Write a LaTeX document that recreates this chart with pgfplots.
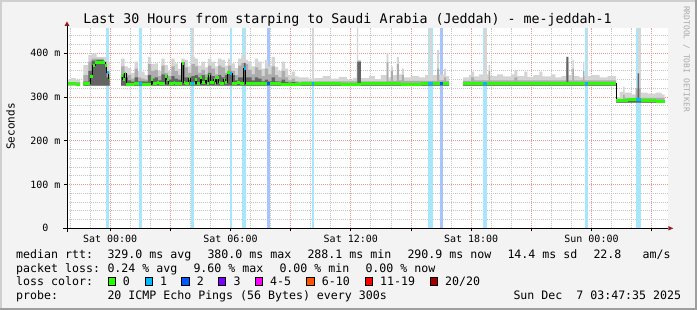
\documentclass[border=0pt]{standalone}
\usepackage{fontspec}
\setmainfont{DejaVu Sans Mono}
\usepackage{pgfplots}
\pgfplotsset{compat=1.18}
\definecolor{bgc}{RGB}{243,243,243}
\definecolor{shA}{RGB}{207,207,207}
\definecolor{shB}{RGB}{158,158,158}
\definecolor{gmaj}{RGB}{236,150,150}
\definecolor{gmin}{RGB}{196,196,196}
\definecolor{arr}{RGB}{153,26,26}
\definecolor{rrd}{RGB}{170,170,170}
\definecolor{lc0}{HTML}{26FF00}
\definecolor{lc1}{HTML}{00B8FF}
\definecolor{lc2}{HTML}{0059FF}
\definecolor{lc3}{HTML}{7E00FF}
\definecolor{lc4}{HTML}{FF00FF}
\definecolor{lc6}{HTML}{FF5500}
\definecolor{lc11}{HTML}{FF0000}
\definecolor{lc20}{HTML}{A10000}
\definecolor{lb1}{RGB}{168,230,252}
\definecolor{lb2}{RGB}{166,197,255}
\definecolor{sm1}{RGB}{212,212,212}
\definecolor{sm2}{RGB}{172,172,172}
\definecolor{sm3}{RGB}{100,100,100}
\definecolor{lost}{RGB}{214,214,214}
\newcommand\lf{\fontsize{11.6bp}{13bp}\selectfont}
\newcommand\lossbar[3]{\addplot[fill=#1, draw=none, forget plot] coordinates {(#2,458.5) (#3,458.5)} \closedcycle;}
\newcommand\lostcol[3]{\addplot[fill=lost, draw=none, forget plot] coordinates {(#2,#1)(#2,458.5)(#3,458.5)(#3,#1)} --cycle;}
\newcommand\smoke[2]{\addplot[const plot, fill=#1, draw=none, forget plot] coordinates {#2} --cycle;}
\begin{document}
\begin{tikzpicture}
\fill[bgc] (0,0) rectangle (697bp,310bp);
\fill[shA] (0,0) rectangle (2bp,310bp);
\fill[shA] (0,308bp) rectangle (697bp,310bp);
\fill[shB] (695bp,0) rectangle (697bp,310bp);
\fill[shB] (0,0) rectangle (697bp,2bp);
\begin{axis}[at={(67bp,81.7bp)}, anchor=south west, scale only axis,
  width=601.3bp, height=200.6bp,
  xmin=-2.15, xmax=27.83, ymin=0, ymax=458.5, clip=false,
  axis line style={draw=none},
  axis background/.style={fill=white},
  unbounded coords=jump,
  xtick={0,3,...,27},
  xticklabels={Sat 00:00,,Sat 06:00,,Sat 12:00,,Sat 18:00,,Sun 00:00,},
  minor xtick={-2,-1,1,2,4,5,7,8,10,11,13,14,16,17,19,20,22,23,25,26},
  ytick={0,100,200,300,400},
  yticklabels={0\phantom{\ m},100 m,200 m,300 m,400 m},
  minor ytick={20,40,60,80,120,140,160,180,220,240,260,280,320,340,360,380,420,440},
  grid=both,
  major grid style={color=gmaj, line width=0.8bp, dash pattern=on 1bp off 1bp},
  minor grid style={color=gmin, line width=0.8bp, dash pattern=on 1bp off 1bp},
  tick pos=left, tick align=outside,
  major tick length=3bp, minor tick length=0pt,
  tick style={black, line width=0.8bp},
  x tick label style={font=\fontsize{10bp}{12bp}\selectfont, text=black},
  y tick label style={font=\fontsize{10bp}{12bp}\selectfont, text=black},
]
% loss bars
\lossbar{lb1}{-0.2}{-0.065}
\lossbar{lb1}{1.45}{1.585}
\lossbar{lb1}{4.05}{4.185}
\lossbar{lb1}{5.965}{6.085}
\lossbar{lb1}{6.6}{6.785}
\lossbar{lb2}{7.8}{7.95}
\lossbar{lb1}{10.05}{10.185}
\lossbar{lb1}{15.85}{16.085}
\lossbar{lb2}{16.45}{16.6}
\lossbar{lb1}{18.6}{18.8}
\lossbar{lb1}{23.685}{23.85}
\lossbar{lb1}{26.2}{26.45}
% smoke, light
\smoke{sm1}{(-2.15,326)(-2.15,340)(-1.95,343)(-1.7,340)(-1.5,340)(-1.5,326)}
\smoke{sm1}{(-1.33,326)(-1.33,373)(-1.08,396)(-0.92,400)(-0.67,392)(-0.33,392)(-0.17,381)(-0.03,381)(-0.03,326)}
\smoke{sm1}{(0.55,326)(0.55,388)(0.72,370)(0.88,366)(1.05,355)(1.22,381)(1.38,360)(1.55,358)(1.72,350)(1.88,392)(2.05,375)(2.22,377)(2.38,360)(2.55,388)(2.72,373)(2.88,360)(3.05,388)(3.22,377)(3.38,365)(3.55,388)(3.72,385)(3.88,370)(4.05,392)(4.22,388)(4.38,372)(4.55,381)(4.72,368)(4.88,388)(5.05,381)(5.22,370)(5.38,388)(5.55,385)(5.72,372)(5.88,388)(6.05,377)(6.22,366)(6.38,388)(6.55,396)(6.72,385)(6.88,381)(7.05,370)(7.22,388)(7.38,381)(7.55,365)(7.72,385)(7.88,370)(8.05,392)(8.22,369)(8.38,360)(8.55,381)(8.72,365)(8.88,350)(9.05,358)(9.22,347)(9.38,345)(9.55,345)(9.9,342)(10.2,343)(10.6,348)(11.0,342)(11.4,346)(11.8,340)(12.1,344)(12.3,458.5)(12.37,385)(12.5,343)(12.9,348)(13.2,341)(13.5,350)(13.78,400)(13.87,345)(14.0,370)(14.1,350)(14.3,392)(14.4,352)(14.55,365)(14.65,345)(15.0,348)(15.4,345)(15.7,350)(16.1,350)(16.3,407)(16.4,352)(16.65,365)(16.75,348)(16.9,348)(16.9,326)}
\smoke{sm1}{(17.6,326)(17.6,345)(17.9,350)(18.0,358)(18.15,347)(18.4,352)(18.83,350)(18.87,373)(18.95,348)(19.3,352)(19.6,347)(20.0,352)(20.15,362)(20.3,348)(20.65,358)(20.8,346)(21.1,350)(21.4,358)(21.55,347)(22.0,352)(22.2,345)(22.5,348)(22.75,392)(22.85,350)(23.05,385)(23.12,348)(23.4,345)(23.58,381)(23.65,348)(24.0,350)(24.4,345)(24.8,348)(25.23,348)(25.23,326)}
\smoke{sm1}{(25.23,287)(25.23,300)(25.4,312)(25.58,324)(25.65,310)(26.0,306)(26.45,310)(26.8,308)(27.2,310)(27.5,306)(27.65,306)(27.65,287)}
% lost pings
\lostcol{326}{4.1}{4.185}
\lostcol{326}{6.7}{6.785}
\lostcol{326}{10.05}{10.185}
\lostcol{326}{15.9}{16.05}
\lostcol{326}{18.65}{18.8}
\lostcol{326}{23.78}{23.85}
\lostcol{292}{26.3}{26.45}
% smoke, middle
\smoke{sm2}{(-2.15,326)(-2.15,334)(-1.5,334)(-1.5,326)}
\smoke{sm2}{(-1.33,326)(-1.33,350)(-1.08,381)(-0.92,388)(-0.67,388)(-0.33,381)(-0.17,358)(-0.03,358)(-0.03,326)}
\smoke{sm2}{(0.55,326)(0.55,370)(0.72,352)(0.88,350)(1.05,342)(1.22,365)(1.38,345)(1.55,342)(1.72,340)(1.88,375)(2.05,360)(2.22,362)(2.38,348)(2.55,372)(2.72,355)(2.88,348)(3.05,370)(3.22,360)(3.38,350)(3.55,380)(3.72,368)(3.88,355)(4.05,375)(4.22,370)(4.38,355)(4.55,362)(4.72,352)(4.88,372)(5.05,365)(5.22,352)(5.38,372)(5.55,368)(5.72,355)(5.88,372)(6.05,360)(6.22,350)(6.38,372)(6.55,378)(6.72,375)(6.88,362)(7.05,352)(7.22,368)(7.38,362)(7.55,348)(7.72,365)(7.88,352)(8.05,370)(8.22,350)(8.38,345)(8.55,360)(8.72,345)(8.88,338)(9.05,342)(9.22,336)(9.38,335)(9.55,336)(12.3,381)(12.5,336)(13.78,380)(13.87,337)(14.0,360)(14.1,337)(14.3,375)(14.4,338)(14.55,350)(14.65,337)(16.3,365)(16.4,338)(16.65,345)(16.75,337)(16.9,337)(16.9,326)}
\smoke{sm2}{(17.6,326)(17.6,337)(18.0,345)(18.15,338)(18.87,360)(18.95,338)(20.15,345)(20.3,338)(22.75,380)(22.85,338)(23.05,365)(23.12,338)(23.58,360)(23.65,338)(25.23,338)(25.23,326)}
\smoke{sm2}{(25.23,287)(25.23,296)(25.58,305)(25.65,298)(26.2,320)(26.45,298)(27.65,298)(27.65,287)}
% smoke, dark
\smoke{sm3}{(-1.33,326)(-1.33,335)(-1.08,360)(-0.92,383)(-0.67,385)(-0.33,376)(-0.17,345)(-0.03,345)(-0.03,326)}
\smoke{sm3}{(0.55,326)(0.55,352)(0.72,345)(0.88,338)(1.05,335)(1.22,345)(1.38,336)(1.55,336)(1.72,335)(1.88,350)(2.05,342)(2.22,345)(2.38,338)(2.55,352)(2.72,350)(2.88,340)(3.05,348)(3.22,342)(3.38,340)(3.55,380)(3.72,345)(3.88,345)(4.05,348)(4.22,350)(4.38,345)(4.55,350)(4.72,345)(4.88,355)(5.05,348)(5.22,342)(5.38,350)(5.55,345)(5.72,350)(5.88,358)(6.05,350)(6.22,338)(6.38,345)(6.55,345)(6.67,378)(6.75,345)(6.88,345)(7.05,338)(7.22,345)(7.38,342)(7.55,336)(7.72,340)(7.88,336)(8.05,345)(8.22,336)(8.38,335)(8.55,340)(8.72,334)(8.88,333)(9.05,334)(9.22,333)(9.38,332)(12.33,381)(12.5,332)(16.9,332)(16.9,326)}
\smoke{sm3}{(17.6,326)(17.6,332)(22.75,392)(22.85,334)(25.23,334)(25.23,326)}
\smoke{sm3}{(25.23,287)(25.23,292)(26.3,354)(26.38,293)(27.65,293)(27.65,287)}
% median rtt
\addplot[const plot, black, line width=1bp, forget plot] coordinates {
(-2.15,330)(-1.9,331)(-1.7,329)(-1.5,329)(-1.4,nan)
(-1.33,330)(-1.0,346)(-0.87,373)(-0.75,380)(-0.42,378)(-0.25,373)(-0.17,357)(-0.08,343)(-0.03,343)(0.2,nan)
(0.55,350)(0.63,341)(0.72,354)(0.8,329)(1.2,331)(1.6,329)(2.05,339)(2.13,330)(2.33,333)(2.42,330)(2.75,348)(2.83,339)(2.92,330)(3.17,333)(3.25,330)(3.58,377)(3.67,333)(3.75,330)(3.92,343)(4.0,330)(4.25,339)(4.33,330)(4.5,344)(4.58,333)(4.75,342)(4.83,331)(4.92,350)(5.0,333)(5.17,339)(5.25,330)(5.3,344)(5.42,333)(5.5,331)(5.67,341)(5.75,333)(5.83,356)(6.0,354)(6.08,331)(6.33,333)(6.5,330)(6.67,365)(6.75,330)(7.5,331)(8.5,329)(9.5,330)(10.5,331)(11.5,329)(12.5,330)(13.5,331)(14.5,329)(15.5,330)(16.5,331)(16.9,331)(17.2,nan)
(17.6,330)(18.2,332)(18.9,331)(19.8,330)(20.7,332)(21.6,330)(22.5,331)(23.4,330)(24.3,331)(25.23,293)(25.8,294)(26.2,295)(26.45,293)(27.0,291)(27.2,289)(27.45,290)(27.65,290)};
\addplot[jump mark left, lc0, line width=3bp, forget plot] coordinates {
(-2.15,330)(-1.9,331)(-1.7,329)(-1.5,329)(-1.4,nan)
(-1.33,330)(-1.0,346)(-0.87,373)(-0.75,380)(-0.42,378)(-0.25,373)(-0.17,357)(-0.08,343)(-0.03,343)(0.2,nan)
(0.55,350)(0.63,341)(0.72,354)(0.8,329)(1.2,331)(1.6,329)(2.05,339)(2.13,330)(2.33,333)(2.42,330)(2.75,348)(2.83,339)(2.92,330)(3.17,333)(3.25,330)(3.58,377)(3.67,333)(3.75,330)(3.92,343)(4.0,330)(4.25,339)(4.33,330)(4.5,344)(4.58,333)(4.75,342)(4.83,331)(4.92,350)(5.0,333)(5.17,339)(5.25,330)(5.3,344)(5.42,333)(5.5,331)(5.67,341)(5.75,333)(5.83,356)(6.0,354)(6.08,331)(6.33,333)(6.5,330)(6.67,365)(6.75,330)(7.5,331)(8.5,329)(9.5,330)(10.5,331)(11.5,329)(12.5,330)(13.5,331)(14.5,329)(15.5,330)(16.5,331)(16.9,331)(17.2,nan)
(17.6,330)(18.2,332)(18.9,331)(19.8,330)(20.7,332)(21.6,330)(22.5,331)(23.4,330)(24.3,331)(25.23,293)(25.8,294)(26.2,295)(26.45,293)(27.0,291)(27.2,289)(27.45,290)(27.65,290)};
% median coloured by loss
\addplot[lc1, line width=3bp, forget plot] coordinates {(-0.17,357)(-0.08,357)(0,nan)(1.45,331)(1.585,331)(2,nan)(4.05,330)(4.185,330)(4.5,nan)(6.0,354)(6.08,354)(6.3,nan)(6.67,365)(6.75,365)(7,nan)(10.05,330)(10.185,330)(11,nan)(15.85,330)(16.085,330)(16.3,nan)(18.6,332)(18.8,332)(19,nan)(23.685,330)(23.85,330)(24,nan)(26.2,295)(26.45,295)};
\addplot[lc2, line width=3bp, forget plot] coordinates {(7.8,331)(7.95,331)(8,nan)(16.45,330)(16.6,330)};
% axis lines and arrows
\draw[black, line width=1bp] ([xshift=-4bp]axis cs:-2.15,0) -- (axis cs:27.83,0);
\fill[arr] ([yshift=2.2bp]axis cs:27.83,0) -- ([xshift=5bp]axis cs:27.83,0) -- ([yshift=-2.2bp]axis cs:27.83,0) -- cycle;
\draw[black, line width=1bp] ([yshift=-4bp]axis cs:-2.15,0) -- ([yshift=1.7bp]axis cs:-2.15,458.5);
\fill[arr] ([xshift=-2.5bp,yshift=1.7bp]axis cs:-2.15,458.5) -- ([yshift=6.2bp]axis cs:-2.15,458.5) -- ([xshift=2.5bp,yshift=1.7bp]axis cs:-2.15,458.5) -- cycle;
\end{axis}
% title and labels
\node[anchor=base, inner sep=0pt] at (347.5bp,286bp) {\fontsize{13.3bp}{15bp}\selectfont Last 30 Hours from starping to Saudi Arabia (Jeddah) - me-jeddah-1};
\node[rotate=90, inner sep=0pt] at (10.5bp,183.5bp) {\fontsize{11bp}{13bp}\selectfont Seconds};
\node[rotate=-90, inner sep=0pt, text=rrd] at (686.5bp,251bp) {\fontsize{8bp}{9bp}\selectfont RRDTOOL / TOBI OETIKER};
% legend
\node[anchor=base west, inner sep=0pt] at (16bp,51.5bp) {\lf median rtt:};
\node[anchor=base west, inner sep=0pt] at (107.3bp,51.5bp) {\lf 329.0 ms avg};
\node[anchor=base west, inner sep=0pt] at (207.3bp,51.5bp) {\lf 380.0 ms max};
\node[anchor=base west, inner sep=0pt] at (307.3bp,51.5bp) {\lf 288.1 ms min};
\node[anchor=base west, inner sep=0pt] at (407.3bp,51.5bp) {\lf 290.9 ms now};
\node[anchor=base west, inner sep=0pt] at (507.3bp,51.5bp) {\lf 14.4 ms sd};
\node[anchor=base west, inner sep=0pt] at (593.3bp,51.5bp) {\lf 22.8};
\node[anchor=base west, inner sep=0pt] at (642.4bp,51.5bp) {\lf am/s};
\node[anchor=base west, inner sep=0pt] at (16bp,38bp) {\lf packet loss:};
\node[anchor=base west, inner sep=0pt] at (107.3bp,38bp) {\lf 0.24 \% avg};
\node[anchor=base west, inner sep=0pt] at (193.3bp,38bp) {\lf 9.60 \% max};
\node[anchor=base west, inner sep=0pt] at (279.3bp,38bp) {\lf 0.00 \% min};
\node[anchor=base west, inner sep=0pt] at (365.3bp,38bp) {\lf 0.00 \% now};
\node[anchor=base west, inner sep=0pt] at (16bp,24.5bp) {\lf loss color:};
\foreach \bx/\c in {108.3/lc0, 145/lc1, 181.7/lc2, 218.3/lc3, 255/lc4, 306.7/lc6, 365/lc11, 430/lc20}{
  \filldraw[fill=\c, draw=black, line width=0.8bp] (\bx bp,25bp) rectangle ++(7.3bp,7.3bp);
}
\node[anchor=base west, inner sep=0pt] at (122.7bp,24.5bp) {\lf 0};
\node[anchor=base west, inner sep=0pt] at (160bp,24.5bp) {\lf 1};
\node[anchor=base west, inner sep=0pt] at (196.7bp,24.5bp) {\lf 2};
\node[anchor=base west, inner sep=0pt] at (233.3bp,24.5bp) {\lf 3};
\node[anchor=base west, inner sep=0pt] at (270bp,24.5bp) {\lf 4-5};
\node[anchor=base west, inner sep=0pt] at (321.7bp,24.5bp) {\lf 6-10};
\node[anchor=base west, inner sep=0pt] at (380bp,24.5bp) {\lf 11-19};
\node[anchor=base west, inner sep=0pt] at (445bp,24.5bp) {\lf 20/20};
\node[anchor=base west, inner sep=0pt] at (16bp,10.5bp) {\lf probe:};
\node[anchor=base west, inner sep=0pt] at (107.3bp,10.5bp) {\lf 20 ICMP Echo Pings (56 Bytes) every 300s};
\node[anchor=base west, inner sep=0pt] at (513.3bp,10.5bp) {\lf Sun Dec\ \ 7 03:47:35 2025};
\end{tikzpicture}
\end{document}
